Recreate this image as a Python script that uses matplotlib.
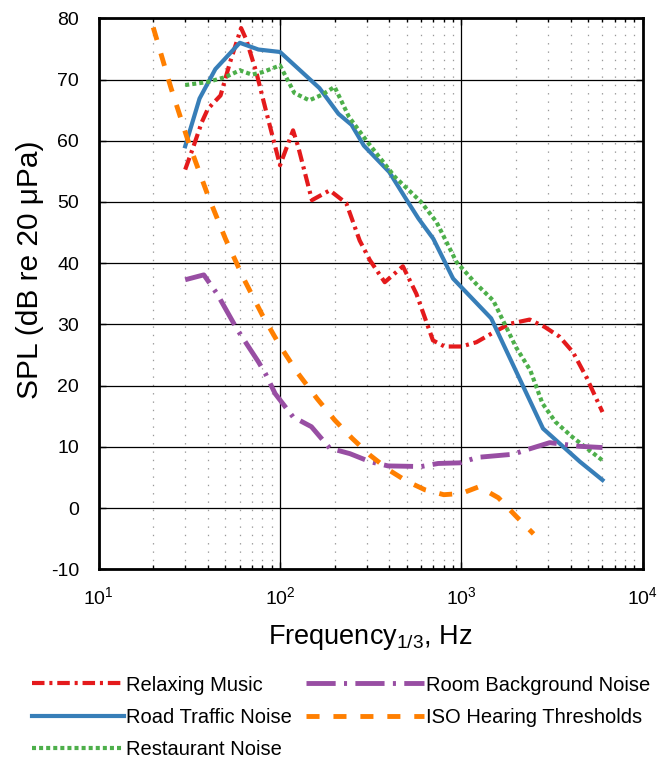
import numpy as np
import matplotlib
matplotlib.use("Agg")
import matplotlib.pyplot as plt
from matplotlib.ticker import LogLocator, MultipleLocator

plt.rcParams['font.family'] = ['Liberation Sans', 'DejaVu Sans']
plt.rcParams['mathtext.fontset'] = 'custom'
plt.rcParams['mathtext.rm'] = 'Liberation Sans'
plt.rcParams['mathtext.it'] = 'Liberation Sans:italic'
plt.rcParams['lines.scale_dashes'] = False
plt.rcParams['axes.unicode_minus'] = False

# ---- data ----
music_f = [30, 33, 37, 40, 47, 53, 61, 65, 74, 84, 100, 118, 126, 150, 188, 232,
           275, 313, 378, 476, 565, 697, 808, 1000, 1210, 1525, 1845, 2380, 2880,
           3480, 4120, 4890, 6000]
music_db = [55.3, 58.7, 63.0, 65.2, 67.4, 72.8, 78.4, 76.6, 71.2, 64.7, 56.0, 61.7,
            59.0, 50.3, 51.9, 49.8, 43.7, 40.5, 36.9, 39.5, 35.0, 27.4, 26.4, 26.4,
            27.1, 28.8, 30.1, 30.8, 29.6, 28.0, 25.5, 21.4, 15.7]

traffic_f = [30, 36, 44, 60, 76, 100, 165, 210, 248, 290, 400, 500, 580, 700,
             900, 1460, 2820, 4500, 6000]
traffic_db = [59.1, 66.9, 71.7, 76.0, 74.9, 74.5, 68.6, 64.4, 62.6, 59.2, 54.9,
              50.3, 47.3, 44.0, 37.5, 31.0, 13.0, 7.6, 4.6]

restaurant_f = [30, 40, 50, 60, 70, 80, 100, 120, 145, 170, 200, 240, 300, 430,
                600, 730, 940, 1200, 1500, 2000, 2400, 2800, 3300, 4100, 6000]
restaurant_db = [69.1, 69.6, 70.4, 71.5, 70.8, 71.2, 72.3, 67.8, 66.6, 67.5, 68.8,
                 63.9, 60.0, 54.1, 50.0, 46.7, 40.2, 36.7, 33.9, 26.3, 22.5, 17.1,
                 14.1, 11.6, 7.8]

room_f = [30, 38, 45, 58, 76, 83, 94, 118, 149, 188, 243, 313, 394, 600, 745,
          980, 1230, 1920, 2330, 3070, 4490, 6000]
room_db = [37.3, 38.1, 35.0, 29.2, 23.9, 22.0, 18.7, 14.9, 13.3, 9.8, 8.9, 7.6,
           6.9, 6.8, 7.3, 7.4, 8.3, 8.8, 9.6, 10.7, 10.1, 9.9]

iso_f = [20, 25, 31.5, 40, 50, 63, 80, 100, 125, 160, 200, 250, 315, 400, 500,
         630, 800, 1000, 1250, 1600, 2000, 2500]
iso_db = [78.5, 68.7, 59.5, 51.1, 44.0, 37.5, 31.5, 26.5, 22.1, 17.9, 14.4, 11.4,
          8.6, 6.2, 4.4, 3.0, 2.2, 2.4, 3.5, 1.7, -1.3, -4.2]

labels = ["Relaxing Music", "Road Traffic Noise", "Restaurant Noise",
          "Room Background Noise", "ISO Hearing Thresholds"]

red, blue, green, purple, orange = '#E41A1C', '#377EB8', '#4DAF4A', '#984EA3', '#FF7F00'

fig = plt.figure(figsize=(6.6, 7.59), dpi=100)
ax = fig.add_axes([0.1495, 0.2498, 0.9738 - 0.1495, 0.9759 - 0.2498])

l1, = ax.plot(music_f, music_db, color=red, lw=3, dashes=(9, 3.5, 2.2, 3.5))
l2, = ax.plot(traffic_f, traffic_db, color=blue, lw=3)
l3, = ax.plot(restaurant_f, restaurant_db, color=green, lw=3, dashes=(2.9, 2.2))
l4, = ax.plot(room_f, room_db, color=purple, lw=3.5, dashes=(21, 6, 2.2, 6))
l5, = ax.plot(iso_f, iso_db, color=orange, lw=3.5, dashes=(9.4, 10))

ax.set_xscale('log')
ax.set_xlim(10, 1e4)
ax.set_ylim(-10, 80)
ax.yaxis.set_major_locator(MultipleLocator(10))
ax.xaxis.set_minor_locator(LogLocator(base=10, subs=np.arange(2, 10)))

ax.grid(True, which='major', color='black', lw=0.9, ls='-')
ax.grid(True, which='minor', axis='x', color='#999999', lw=0.9, ls=(0, (1, 5)))
ax.set_axisbelow(True)

for s in ax.spines.values():
    s.set_linewidth(2)
ax.tick_params(which='both', direction='in', top=True, right=True, labelsize=14)
ax.tick_params(which='major', length=5, width=1)
ax.tick_params(which='minor', length=3, width=1)
ax.tick_params(axis='x', pad=12)
ax.tick_params(axis='y', pad=14)

ax.set_xlabel('Frequency$_\\mathregular{1/3}$, Hz', fontsize=19.5)
ax.xaxis.set_label_coords(0.5, -0.098)
ax.set_ylabel('SPL (dB re 20 μPa)', fontsize=21.5)
ax.yaxis.set_label_coords(-0.101, 0.543)

fig.legend([l1, l2, l3], labels[:3], loc='upper left', bbox_to_anchor=(0.048, 0.11),
           frameon=False, fontsize=14.5, handlelength=4.6, handletextpad=0.1,
           labelspacing=0.66, borderpad=0, borderaxespad=0)
fig.legend([l4, l5], labels[3:], loc='upper left', bbox_to_anchor=(0.463, 0.11),
           frameon=False, fontsize=14.5, handlelength=5.9, handletextpad=0.1,
           labelspacing=0.66, borderpad=0, borderaxespad=0)

fig.savefig('out.png', dpi=100)
